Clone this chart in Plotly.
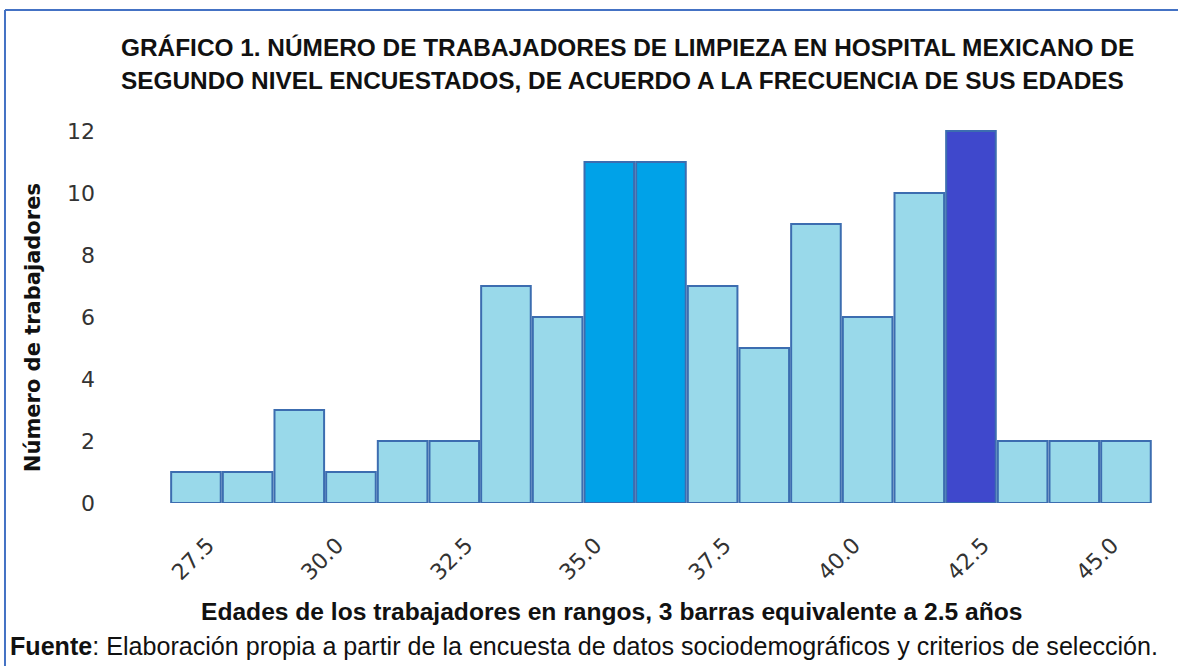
import plotly.graph_objects as go

# centro de cada barra (edad) y número de trabajadores
edades = [27.5, 28.5, 29.5, 30.5, 31.5, 32.5, 33.5, 34.5, 35.5, 36.5,
          37.5, 38.5, 39.5, 40.5, 41.5, 42.5, 43.5, 44.5, 45.5]
trabajadores = [1, 1, 3, 1, 2, 2, 7, 6, 11, 11, 7, 5, 9, 6, 10, 12, 2, 2, 2]

tick_vals = [27.5, 30.0, 32.5, 35.0, 37.5, 40.0, 42.5, 45.0]
tick_text = ["27.5", "30.0", "32.5", "35.0", "37.5", "40.0", "42.5", "45.0"]

titulo_1 = "GRÁFICO 1. NÚMERO DE TRABAJADORES DE LIMPIEZA EN HOSPITAL MEXICANO DE"
titulo_2 = "SEGUNDO NIVEL ENCUESTADOS, DE ACUERDO A LA FRECUENCIA DE SUS EDADES"
titulo_x = "Edades de los trabajadores en rangos, 3 barras equivalente a 2.5 años"
titulo_y = "Número de trabajadores"
fuente = ("<b>Fuente</b>: Elaboración propia a partir de la encuesta de datos "
          "sociodemográficos y criterios de selección.")

maximo = max(trabajadores)
segundo = sorted(set(trabajadores))[-2]
colores = []
for v in trabajadores:
    if v == maximo:
        colores.append("#3F48CC")
    elif v == segundo:
        colores.append("#00A2E8")
    else:
        colores.append("#99D9EA")

fig = go.Figure(go.Bar(
    x=edades, y=trabajadores, width=0.96,
    marker=dict(color=colores, line=dict(color="#3C6DB0", width=2)),
    hoverinfo="x+y",
))

fig.update_layout(
    width=1178, height=666,
    margin=dict(l=120, r=20, t=110, b=163),
    paper_bgcolor="white", plot_bgcolor="white",
    showlegend=False,
    font=dict(family="DejaVu Sans", color="#333333"),
)
fig.update_xaxes(
    range=[26.03, 46.12], tickvals=tick_vals, ticktext=tick_text,
    tickangle=-45, tickfont=dict(size=22, family="DejaVu Sans", color="#333333"),
    showgrid=False, zeroline=False, showline=False,
    ticklabelstandoff=24, ticklabelshift=12,
)
fig.update_yaxes(
    range=[0, 12.68], tickvals=[0, 2, 4, 6, 8, 10, 12],
    tickfont=dict(size=22, family="DejaVu Sans", color="#333333"),
    showgrid=False, zeroline=False, showline=False,
    ticklabelstandoff=24,
)

anot = [
    dict(text="<b>" + titulo_1 + "</b>", x=-0.001, y=1.158, xanchor="left", yanchor="middle",
         font=dict(family="Liberation Sans", size=24.4, color="#111111")),
    dict(text="<b>" + titulo_2 + "</b>", x=-0.001, y=1.076, xanchor="left", yanchor="middle",
         font=dict(family="Liberation Sans", size=24.4, color="#111111")),
    dict(text="<b>" + titulo_x + "</b>", x=0.474, y=-0.277, xanchor="center", yanchor="middle",
         font=dict(family="Liberation Sans", size=24.6, color="#111111")),
    dict(text=fuente, x=-0.108, y=-0.364, xanchor="left", yanchor="middle",
         font=dict(family="Liberation Sans", size=25.1, color="#111111")),
    dict(text="<b>" + titulo_y + "</b>", x=-0.0838, y=0.445, xanchor="center", yanchor="middle",
         textangle=-90, font=dict(family="DejaVu Sans", size=21, color="#111111")),
]
for a in anot:
    fig.add_annotation(xref="paper", yref="paper", showarrow=False, **a)

# marco azul (arriba e izquierda)
fig.add_shape(type="line", xref="paper", yref="paper", x0=-0.1108, x1=1.02, y0=1.2545, y1=1.2545,
              line=dict(color="#4472C4", width=2))
fig.add_shape(type="line", xref="paper", yref="paper", x0=-0.1108, x1=-0.1108, y0=1.2545, y1=-0.42,
              line=dict(color="#4472C4", width=2))

# quitar el margen del body para que la figura empiece en (0, 0)
fig.write_html("out.html", config={"displayModeBar": False},
               post_script="document.body.style.margin='0';")
